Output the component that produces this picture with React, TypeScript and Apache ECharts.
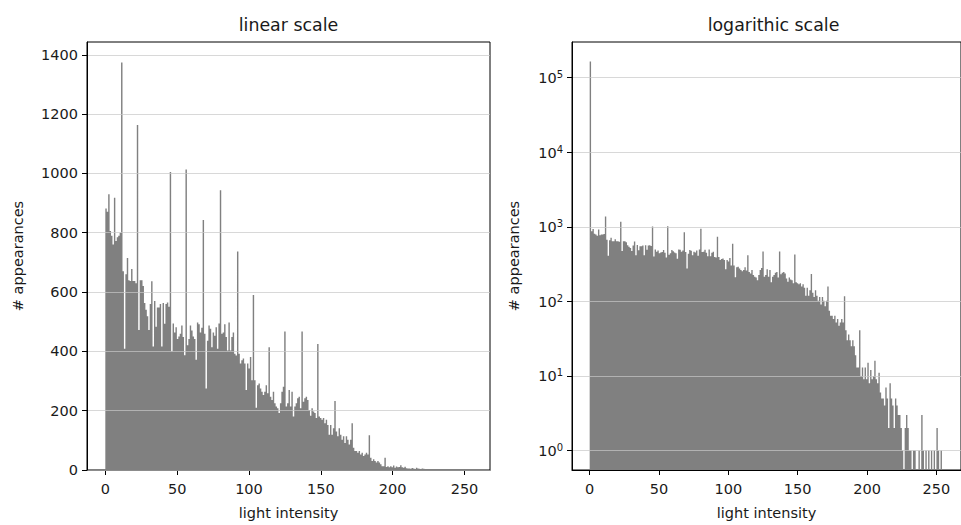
import React, { useEffect, useRef } from "react";
import * as echarts from "echarts";

// Histogram counts per intensity bin (0..255)
const binCounts: number[] = [
  882, 871, 930, 806, 790, 760, 918, 772, 785, 790,
  800, 1374, 670, 409, 660, 715, 640, 637, 678, 637,
  637, 630, 1163, 472, 640, 640, 620, 563, 540, 518,
  472, 560, 636, 416, 570, 483, 548, 548, 560, 416,
  563, 493, 560, 565, 550, 1005, 400, 494, 464, 481,
  442, 450, 459, 487, 448, 387, 1013, 421, 442, 487,
  470, 450, 442, 372, 497, 491, 464, 480, 843, 459,
  275, 436, 487, 476, 414, 464, 453, 481, 409, 494,
  943, 459, 464, 491, 448, 403, 497, 403, 448, 464,
  392, 386, 737, 392, 359, 370, 376, 359, 270, 359,
  342, 381, 303, 590, 303, 210, 286, 292, 275, 264,
  253, 264, 286, 259, 414, 247, 236, 264, 225, 214,
  208, 192, 225, 264, 281, 467, 214, 225, 270, 214,
  264, 180, 214, 225, 242, 247, 208, 467, 230, 242,
  247, 236, 202, 183, 208, 197, 192, 175, 425, 180,
  175, 169, 175, 158, 169, 152, 119, 152, 119, 141,
  233, 130, 114, 141, 119, 102, 114, 91, 114, 102,
  86, 102, 158, 75, 64, 64, 58, 64, 52, 58,
  47, 52, 58, 52, 117, 41, 30, 36, 30, 25,
  30, 25, 19, 13, 13, 41, 10, 13, 9, 13,
  9, 15, 8, 12, 9, 10, 16, 9, 8, 11,
  6, 5, 5, 4, 7, 5, 2, 8, 5, 4,
  2, 5, 4, 3, 3, 2, 1, 0, 2, 3,
  2, 1, 1, 0, 1, 1, 0, 0, 1, 0,
  3, 1, 0, 1, 0, 1, 0, 1, 0, 1,
  0, 2, 1, 0, 1, 0,
];
// Count of the first bin as shown in the logarithmic panel
const logFirstBinCount = 164000;

const xTicks: number[] = [0, 50, 100, 150, 200, 250];
const linearYTicks: number[] = [0, 200, 400, 600, 800, 1000, 1200, 1400];
const logYTicks: number[] = [1, 10, 100, 1000, 10000, 100000];
const logMinorTicks: number[] = [
  0.6, 0.7, 0.8, 0.9,
  2, 3, 4, 5, 6, 7, 8, 9,
  20, 30, 40, 50, 60, 70, 80, 90,
  200, 300, 400, 500, 600, 700, 800, 900,
  2000, 3000, 4000, 5000, 6000, 7000, 8000, 9000,
  20000, 30000, 40000, 50000, 60000, 70000, 80000, 90000,
  200000,
];

const FONT = "DejaVu Sans";
const TEXT = "#1a1a1a";
const BAR = "#808080";
const GRIDLINE = "rgba(200,200,200,0.7)";
const FS = 14.5;
const BIN_W = 255 / 256;

const logCounts = binCounts.map((c, i) => (i === 0 ? logFirstBinCount : c));
const linearData = binCounts.map((c, i) => [i * BIN_W, c]);
const logData = logCounts.map((c, i) => [i * BIN_W, c]);

// Draws the whole histogram as one outline (no seams between adjacent bars),
// every corner mapped through the axes' own scales.
function makeRender(data: number[][], isLog: boolean) {
  return (params: any, api: any) => {
    if (params.dataIndex !== 0) return null;
    const cs = params.coordSys;
    const yRef = isLog ? 1 : 0;
    const bottom = isLog ? cs.y + cs.height : api.coord([0, 0])[1];
    const pts: number[][] = [];
    pts.push([api.coord([data[0][0], yRef])[0], bottom]);
    for (const [x, v] of data) {
      const xl = api.coord([x, yRef])[0];
      const xr = api.coord([x + BIN_W, yRef])[0];
      const y = v > 0 ? api.coord([x, v])[1] : bottom;
      pts.push([xl, y], [xr, y]);
    }
    const last = data[data.length - 1][0] + BIN_W;
    pts.push([api.coord([last, yRef])[0], bottom]);
    return { type: "polygon", shape: { points: pts }, style: { fill: BAR } };
  };
}

const labelStyle = { fontFamily: FONT, fontSize: FS, color: TEXT };

function xAxisFor(gridIndex: number) {
  return {
    gridIndex,
    type: "value",
    min: -12.75,
    max: 267.75,
    splitLine: { show: false },
    axisLine: { show: true, onZero: false, lineStyle: { color: "#000", width: 1 } },
    axisTick: { show: true, customValues: xTicks, length: 5, lineStyle: { color: "#000", width: 1 } },
    axisLabel: { customValues: xTicks, margin: 11, ...labelStyle },
    name: "light intensity",
    nameLocation: "middle",
    nameGap: 35,
    nameTextStyle: { ...labelStyle },
  };
}

export default function App() {
  const ref = useRef<HTMLDivElement>(null);
  useEffect(() => {
    if (!ref.current) return;
    const chart = echarts.init(ref.current, null, { renderer: "svg" });
    chart.setOption({
      animation: false,
      backgroundColor: "#fff",
      grid: [
        { left: 87, top: 42, width: 403, height: 432, show: true, borderColor: "#000", borderWidth: 1 },
        { left: 572, top: 42, width: 403, height: 432, show: true, borderColor: "#000", borderWidth: 1 },
      ],
      graphic: [
        {
          type: "text",
          x: 288.5,
          y: 25,
          style: { text: "linear scale", fontFamily: FONT, fontSize: 17.4, fill: TEXT, align: "center", verticalAlign: "middle" },
        },
        {
          type: "text",
          x: 773.5,
          y: 25,
          style: { text: "logarithic scale", fontFamily: FONT, fontSize: 17.4, fill: TEXT, align: "center", verticalAlign: "middle" },
        },
      ],
      xAxis: [xAxisFor(0), xAxisFor(1)],
      yAxis: [
        {
          gridIndex: 0,
          type: "value",
          min: 0,
          max: 1443,
          interval: 200,
          z: 5,
          splitLine: { show: true, lineStyle: { color: GRIDLINE, width: 1 } },
          axisLine: { show: true, onZero: false, lineStyle: { color: "#000", width: 1 } },
          axisTick: { show: true, customValues: linearYTicks, length: 5, lineStyle: { color: "#000", width: 1 } },
          axisLabel: { customValues: linearYTicks, margin: 9, formatter: (v: number) => String(v), ...labelStyle },
          name: "# appearances",
          nameLocation: "middle",
          nameGap: 62,
          nameTextStyle: { ...labelStyle },
        },
        {
          gridIndex: 1,
          type: "log",
          logBase: 10,
          min: 0.548,
          max: 300000,
          z: 5,
          splitLine: { show: true, lineStyle: { color: GRIDLINE, width: 1 } },
          axisLine: { show: true, onZero: false, lineStyle: { color: "#000", width: 1 } },
          axisTick: { show: true, customValues: logYTicks, length: 5, lineStyle: { color: "#000", width: 1 } },
          axisLabel: {
            customValues: logYTicks,
            margin: 9,
            formatter: (v: number) => `{b|10}{s|${Math.round(Math.log10(v))}}`,
            rich: {
              b: { fontFamily: FONT, fontSize: FS, color: TEXT, lineHeight: 16, verticalAlign: "bottom" },
              s: { fontFamily: FONT, fontSize: 10, color: TEXT, lineHeight: 11, padding: [0, 0, 7, 0], verticalAlign: "top" },
            },
          },
          name: "# appearances",
          nameLocation: "middle",
          nameGap: 51,
          nameTextStyle: { ...labelStyle },
        },
        {
          gridIndex: 1,
          type: "log",
          logBase: 10,
          min: 0.548,
          max: 300000,
          z: 5,
          splitLine: { show: false },
          axisLine: { show: false, onZero: false },
          axisLabel: { show: false },
          axisTick: { show: true, customValues: logMinorTicks, length: 3, lineStyle: { color: "#000", width: 0.8 } },
        },
      ],
      series: [
        {
          type: "custom",
          xAxisIndex: 0,
          yAxisIndex: 0,
          silent: true,
          renderItem: makeRender(linearData, false),
          data: linearData,
          z: 2,
        },
        {
          type: "custom",
          xAxisIndex: 1,
          yAxisIndex: 1,
          silent: true,
          renderItem: makeRender(logData, true),
          data: logData,
          z: 2,
        },
      ],
    });
    return () => chart.dispose();
  }, []);
  return (
    <div style={{ position: "fixed", left: 0, top: 0, width: 961, height: 525, overflow: "hidden", background: "#fff" }}>
      <div ref={ref} style={{ width: 961, height: 525 }} />
    </div>
  );
}
